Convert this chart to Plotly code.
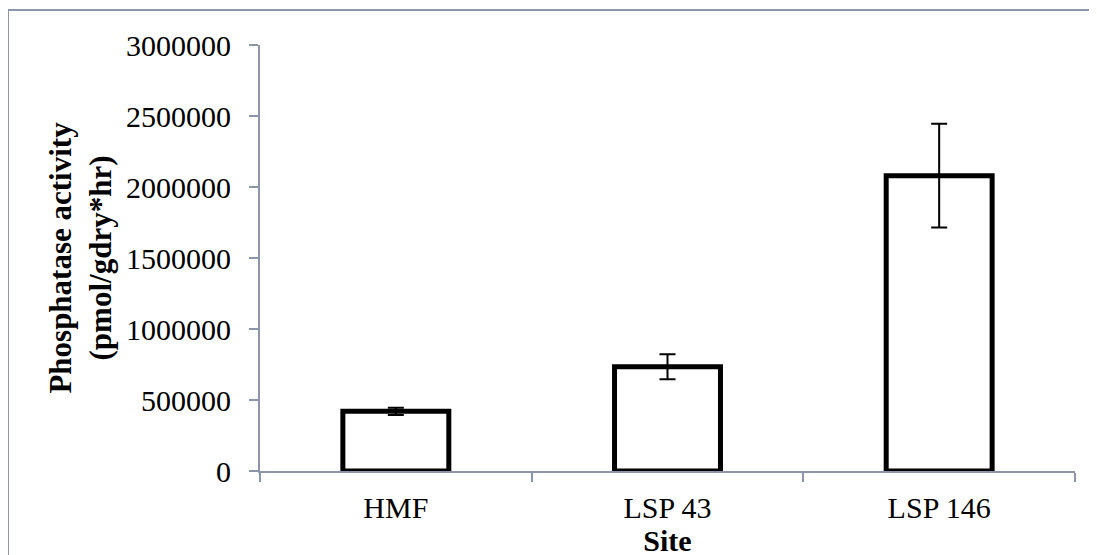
import plotly.graph_objects as go

sites = ["HMF", "LSP 43", "LSP 146"]
activity = [420000, 735000, 2080000]
errors = [25000, 88000, 365000]
y_ticks = [0, 500000, 1000000, 1500000, 2000000, 2500000, 3000000]

axis_grey = "#8c96a8"
font_family = "Liberation Serif, Times New Roman, serif"

fig = go.Figure()
fig.add_trace(go.Bar(
    x=sites, y=activity,
    marker=dict(color="white", line=dict(color="black", width=5)),
    error_y=dict(type="data", array=errors, visible=True,
                 color="black", thickness=2, width=8),
    width=0.39,
))

fig.update_layout(
    width=1097, height=555,
    margin=dict(l=252, r=30, t=37, b=92, autoexpand=False),
    paper_bgcolor="white", plot_bgcolor="white",
    font=dict(family=font_family, size=30, color="black"),
    showlegend=False,
    xaxis=dict(
        type="category",
        showline=True, linecolor=axis_grey, linewidth=2,
        ticks="outside", tickson="boundaries", ticklen=9,
        tickcolor=axis_grey, tickwidth=1.5,
        showgrid=False, layer="below traces",
        ticklabelstandoff=9,
        automargin=False,
        title=dict(text="<b>Site</b>", standoff=0,
                   font=dict(family=font_family, size=30)),
    ),
    yaxis=dict(
        range=[0, 3000000],
        tickvals=y_ticks,
        ticktext=[str(v) for v in y_ticks],
        showline=True, linecolor=axis_grey, linewidth=2,
        ticks="outside", ticklen=9, tickcolor=axis_grey, tickwidth=1.5,
        showgrid=False, zeroline=False, layer="below traces",
        ticklabelstandoff=12,
        automargin=False,
        title=dict(text="<b>Phosphatase activity<br>(pmol/gdry*hr)</b>",
                   standoff=5,
                   font=dict(family=font_family, size=31)),
    ),
    shapes=[dict(
        type="rect", xref="paper", yref="paper",
        x0=-0.3092, x1=1.06, y0=-0.25, y1=1.0822,
        line=dict(color=axis_grey, width=2), fillcolor="rgba(0,0,0,0)",
        layer="below",
    )],
)

fig.write_html("out.html")
